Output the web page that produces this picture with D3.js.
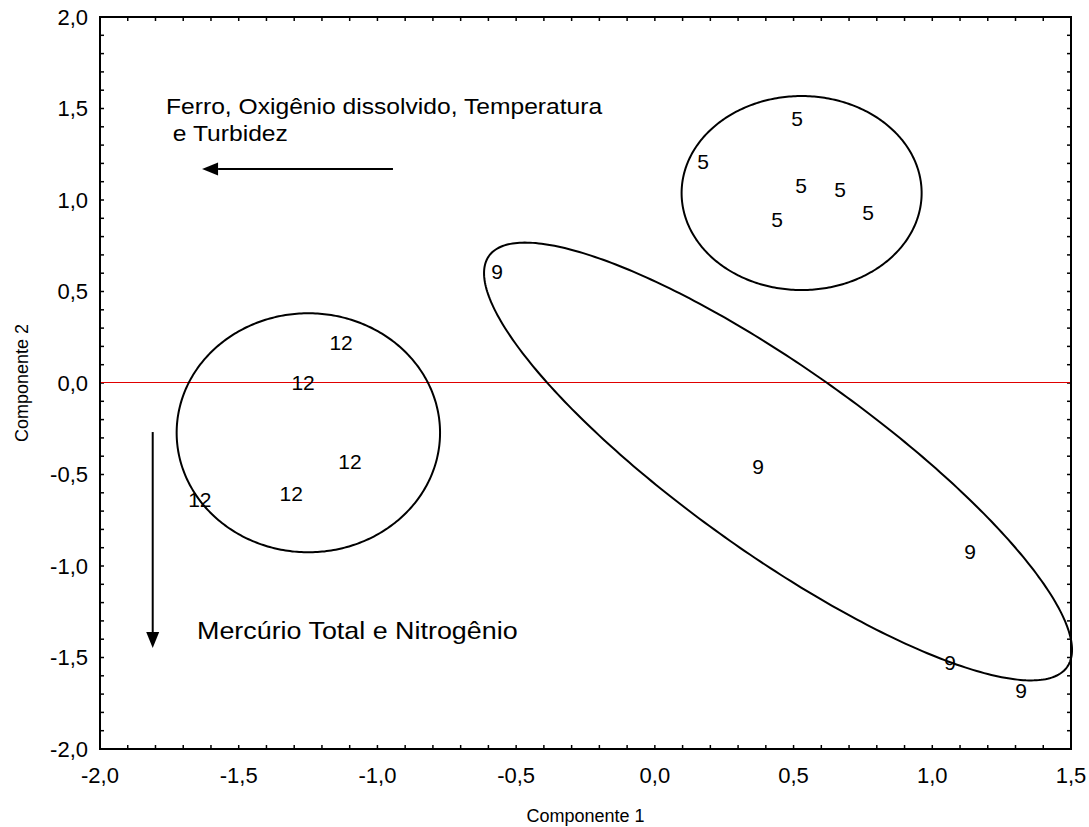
<!DOCTYPE html>
<html>
<head>
<meta charset="utf-8">
<script src="https://cdn.jsdelivr.net/npm/d3@7"></script>
<style>
  body { margin: 0; background: #fff; }
  svg { display: block; font-family: Arial, "Liberation Sans", sans-serif; }
</style>
</head>
<body>
<svg id="chart" width="1089" height="827"></svg>
<script>
// Axis ranges and ticks
const xDomain = [-2.0, 1.5];
const yDomain = [-2.0, 2.0];
const xMajorTicks = [-2.0, -1.5, -1.0, -0.5, 0.0, 0.5, 1.0, 1.5];
const yMajorTicks = [-2.0, -1.5, -1.0, -0.5, 0.0, 0.5, 1.0, 1.5, 2.0];

// Sample scores on the first two components, labelled by group
const group5X = [0.513, 0.174, 0.527, 0.668, 0.769, 0.441];
const group5Y = [1.443, 1.213, 1.082, 1.060, 0.934, 0.896];
const group9X = [-0.569, 0.372, 1.136, 1.064, 1.320];
const group9Y = [0.607, -0.454, -0.918, -1.525, -1.678];
const group12X = [-1.131, -1.268, -1.099, -1.311, -1.640];
const group12Y = [0.224, 0.005, -0.426, -0.601, -0.639];

// Group ellipses: centre and the two half-axis vectors (component units)
const ellipseCx = [0.529, 0.444, -1.249];
const ellipseCy = [1.038, -0.429, -0.272];
const ellipseU = [[0.4326, 0], [1.042, -1.123], [0.4747, 0]];
const ellipseV = [[0, 0.530], [-0.193, -0.412], [0, 0.653]];

// Loading direction arrows: [x1, y1, x2, y2] in component units
const arrowH = [-0.944, 1.169, -1.632, 1.169];
const arrowV = [-1.810, -0.268, -1.810, -1.448];
const arrowHText = ["Ferro, Oxigênio dissolvido, Temperatura", " e Turbidez"];
const arrowVText = "Mercúrio Total e Nitrogênio";

const margin = { left: 100, right: 18, top: 17, bottom: 78 };
const W = 1089, H = 827;
const svg = d3.select("#chart");

const x = d3.scaleLinear().domain(xDomain).range([margin.left, W - margin.right]);
const y = d3.scaleLinear().domain(yDomain).range([H - margin.bottom, margin.top]);

const loc = d3.formatLocale({ decimal: ",", thousands: ".", grouping: [3], currency: ["", ""], minus: "-" });
const fmt = loc.format(".1f");

const x0 = x.range()[0], x1 = x.range()[1];
const y0 = y.range()[1], y1 = y.range()[0];

// Minor ticks every 0.1, pointing inward on all four sides
const xMinor = d3.range(-20, 16).map(d => d / 10);
const yMinor = d3.range(-20, 21).map(d => d / 10);
const tickLen = 4;
const ticks = svg.append("g").attr("stroke", "#000").attr("stroke-width", 1.5);
xMinor.forEach(v => {
  ticks.append("line").attr("x1", x(v)).attr("x2", x(v)).attr("y1", y1).attr("y2", y1 - tickLen);
  ticks.append("line").attr("x1", x(v)).attr("x2", x(v)).attr("y1", y0).attr("y2", y0 + tickLen);
});
yMinor.forEach(v => {
  ticks.append("line").attr("y1", y(v)).attr("y2", y(v)).attr("x1", x0).attr("x2", x0 + tickLen);
  ticks.append("line").attr("y1", y(v)).attr("y2", y(v)).attr("x1", x1).attr("x2", x1 - tickLen);
});

// Zero reference line (aligned to a pixel row so it stays crisp red)
const yZero = Math.round(y(0)) - 0.5;
svg.append("line")
  .attr("x1", x0).attr("x2", x1)
  .attr("y1", yZero).attr("y2", yZero)
  .attr("stroke", "#e00000").attr("stroke-width", 1);

// Plot frame
svg.append("rect")
  .attr("x", x0).attr("y", y0)
  .attr("width", x1 - x0).attr("height", y1 - y0)
  .attr("fill", "none").attr("stroke", "#000").attr("stroke-width", 2);

// Tick labels
svg.append("g").selectAll("text").data(xMajorTicks).join("text")
  .attr("x", d => x(d)).attr("y", y1 + 34)
  .attr("text-anchor", "middle").attr("font-size", 22)
  .text(d => fmt(d));
svg.append("g").selectAll("text").data(yMajorTicks).join("text")
  .attr("x", x0 - 12).attr("y", d => y(d)).attr("dy", "0.36em")
  .attr("text-anchor", "end").attr("font-size", 22)
  .text(d => fmt(d));

// Axis titles
svg.append("text")
  .attr("x", (x0 + x1) / 2).attr("y", 822)
  .attr("text-anchor", "middle").attr("font-size", 18)
  .text("Componente 1");
svg.append("text")
  .attr("transform", `translate(28, ${y(0)}) rotate(-90)`)
  .attr("text-anchor", "middle").attr("font-size", 18)
  .text("Componente 2");

// Ellipses
const line = d3.line().curve(d3.curveLinearClosed);
ellipseCx.forEach((cx, i) => {
  const cy = ellipseCy[i], u = ellipseU[i], v = ellipseV[i];
  const pts = d3.range(0, 360, 1).map(a => {
    const t = a * Math.PI / 180;
    return [x(cx + u[0] * Math.cos(t) + v[0] * Math.sin(t)),
            y(cy + u[1] * Math.cos(t) + v[1] * Math.sin(t))];
  });
  svg.append("path").attr("d", line(pts))
    .attr("fill", "none").attr("stroke", "#000").attr("stroke-width", 2);
});

// Point labels
const groups = [
  { label: "5", xs: group5X, ys: group5Y },
  { label: "9", xs: group9X, ys: group9Y },
  { label: "12", xs: group12X, ys: group12Y }
];
groups.forEach(g => {
  svg.append("g").selectAll("text").data(g.xs).join("text")
    .attr("x", d => x(d)).attr("y", (d, i) => y(g.ys[i])).attr("dy", "0.36em")
    .attr("text-anchor", "middle").attr("font-size", 21)
    .text(g.label);
});

// Arrows
function arrow(a) {
  const sx = x(a[0]), sy = y(a[1]), ex = x(a[2]), ey = y(a[3]);
  const len = Math.hypot(ex - sx, ey - sy);
  const ux = (ex - sx) / len, uy = (ey - sy) / len;
  const hl = 16, hw = 6.5;
  const bx = ex - ux * hl, by = ey - uy * hl;
  svg.append("line").attr("x1", sx).attr("y1", sy).attr("x2", bx).attr("y2", by)
    .attr("stroke", "#000").attr("stroke-width", 2);
  svg.append("path")
    .attr("d", `M${ex},${ey}L${bx - uy * hw},${by + ux * hw}L${bx + uy * hw},${by - ux * hw}Z`)
    .attr("fill", "#000");
}
arrow(arrowH);
arrow(arrowV);

// Arrow captions (slightly wide lettering)
function caption(tx, ty, size, str) {
  svg.append("text")
    .attr("transform", `translate(${tx},${ty}) scale(1.12,1)`)
    .attr("font-size", size)
    .style("white-space", "pre")
    .text(str);
}
caption(166, 114, 22, arrowHText[0]);
caption(166, 141, 22, arrowHText[1]);
caption(197, 639, 24, arrowVText);
</script>
</body>
</html>
